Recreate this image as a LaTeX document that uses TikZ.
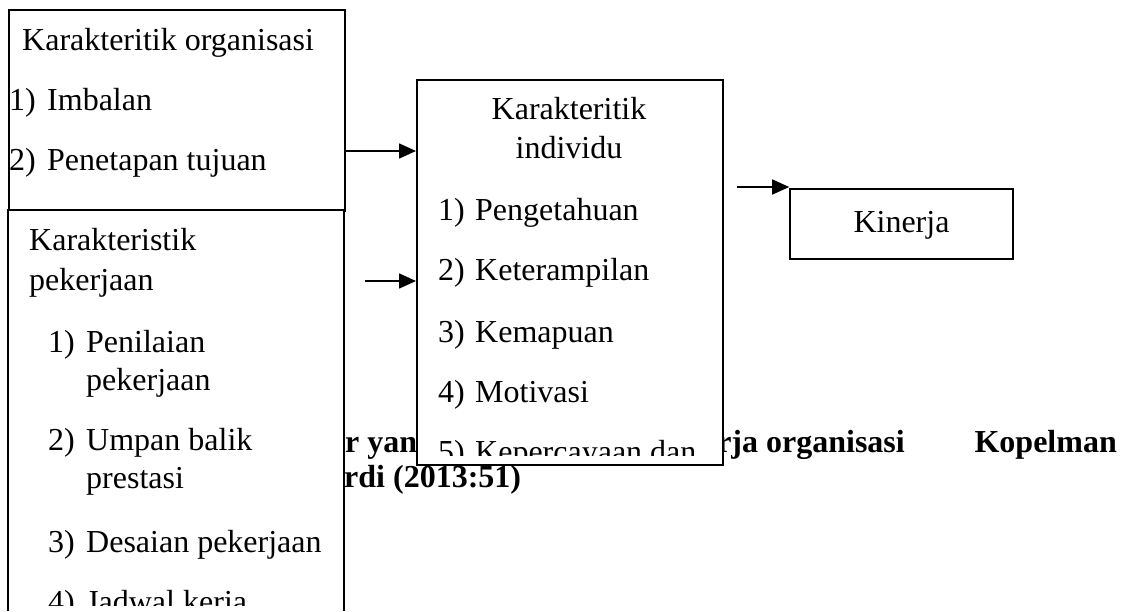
\documentclass[tikz,border=0pt]{standalone}
\usepackage{fontspec}
\setmainfont{Liberation Serif}
\usetikzlibrary{arrows.meta}
\begin{document}
\begin{tikzpicture}[x=1pt,y=-1pt,
  every node/.style={font=\fontsize{32}{38}\selectfont, inner sep=0pt},
  txt/.style={anchor=base west},
  ctxt/.style={anchor=base},
  captxt/.style={anchor=base west, font=\fontsize{32}{38}\selectfont\bfseries},
  boxline/.style={line width=1.6pt, draw=black},
  box/.style={boxline, fill=white, rectangle, anchor=north west},
  arr/.style={line width=1.6pt, -{Triangle[length=17pt,width=15pt]}}]
\useasboundingbox (0,0) rectangle (1126,611);
\fill[white] (0,0) rectangle (1126,611);
% caption (partly covered by the boxes)
\node[captxt] (c1) at (329,452) {or yang};
\node[captxt, anchor=base east] (c2) at (905,452) {kinerja organisasi};
\node[captxt, anchor=base east] (c3) at (1117,452) {Kopelman};
\node[captxt] (c4) at (344,487) {rdi (2013:51)};
% box 1: organisasi
\node[box, minimum width=336pt, minimum height=201pt] (org) at (8,9) {};
\node[txt] (o0) at (22,50) {Karakteritik organisasi};
\node[txt] (o1n) at (9,110) {1)};
\node[txt] (o1) at (47,110) {Imbalan};
\node[txt] (o2n) at (9,170) {2)};
\node[txt] (o2) at (47,170) {Penetapan tujuan};
% box 2: pekerjaan (continues below the picture)
\fill[white] (8,210) rectangle (344,611);
\draw[boxline] (8,611) -- (8,210) -- (344,210) -- (344,611);
\begin{scope}
\clip (8,210) rectangle (344,605);
\node[txt] (p0) at (29,250) {Karakteristik};
\node[txt] (p0b) at (29,290) {pekerjaan};
\node[txt] (p1n) at (48,352) {1)};
\node[txt] (p1) at (86,352) {Penilaian};
\node[txt] (p1b) at (86,390) {pekerjaan};
\node[txt] (p2n) at (48,450) {2)};
\node[txt] (p2) at (86,450) {Umpan balik};
\node[txt] (p2b) at (86,488) {prestasi};
\node[txt] (p3n) at (48,552) {3)};
\node[txt] (p3) at (86,552) {Desaian pekerjaan};
\node[txt] (p4n) at (48,612) {4)};
\node[txt] (p4) at (86,612) {Jadwal kerja};
\end{scope}
% box 3: individu
\fill[black] (418,81) rectangle (724,466);
\node[box, minimum width=306pt, minimum height=385pt] (ind) at (416,79) {};
\begin{scope}
\clip (416,79) rectangle (722,455);
\node[ctxt] (i0) at (569,119) {Karakteritik};
\node[ctxt] (i0b) at (569,158) {individu};
\node[txt] (i1n) at (438,220) {1)};
\node[txt] (i1) at (475,220) {Pengetahuan};
\node[txt] (i2n) at (438,280) {2)};
\node[txt] (i2) at (475,280) {Keterampilan};
\node[txt] (i3n) at (438,342) {3)};
\node[txt] (i3) at (475,342) {Kemapuan};
\node[txt] (i4n) at (438,402) {4)};
\node[txt] (i4) at (475,402) {Motivasi};
\node[txt] (i5n) at (438,462) {5)};
\node[txt] (i5) at (475,462) {Kepercayaan dan};
\end{scope}
% Kinerja
\node[boxline, fill=white, rectangle, minimum width=223pt, minimum height=70pt, text depth=4pt] (kin) at (901.5,224) {Kinerja};
% arrows
\coordinate (a1) at (344,151);
\coordinate (a2) at (365,281);
\coordinate (a3) at (737,187);
\draw[arr] (a1) -- (a1 -| ind.west);
\draw[arr] (a2) -- (a2 -| ind.west);
\draw[arr] (a3) -- (a3 -| kin.west);
\end{tikzpicture}
\end{document}
